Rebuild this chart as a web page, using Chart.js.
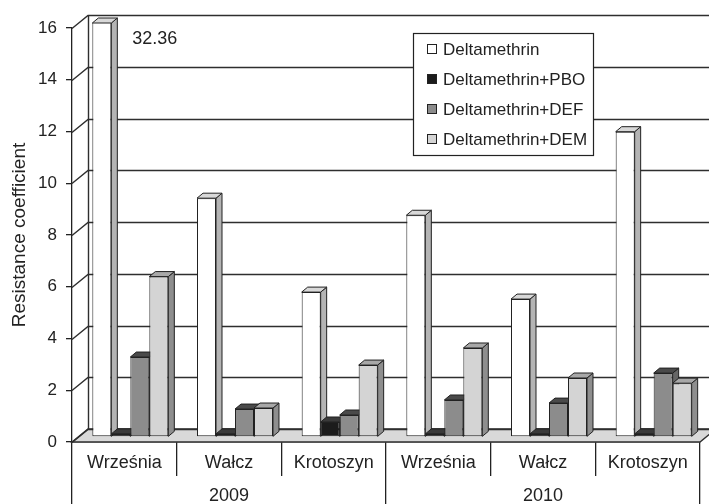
<!DOCTYPE html>
<html>
<head>
<meta charset="utf-8">
<script src="https://cdn.jsdelivr.net/npm/chart.js@4.4.1/dist/chart.umd.min.js"></script>
<style>
  html, body { margin: 0; padding: 0; background: #fff; }
  canvas { display: block; }
</style>
</head>
<body>
<canvas id="myChart" width="709" height="504"></canvas>
<script>
// Sites (two years, three sites each)
const sites = ['Września', 'Wałcz', 'Krotoszyn', 'Września', 'Wałcz', 'Krotoszyn'];
const years = ['2009', '2010'];
const seriesNames = ['Deltamethrin', 'Deltamethrin+PBO', 'Deltamethrin+DEF', 'Deltamethrin+DEM'];

// Resistance coefficients
const deltamethrin = [32.36, 9.23, 5.6, 8.57, 5.33, 11.8];
const withPBO = [0.12, 0.12, 0.58, 0.12, 0.12, 0.12];
const withDEF = [3.09, 1.08, 0.85, 1.43, 1.31, 2.47];
const withDEM = [6.2, 1.12, 2.78, 3.44, 2.28, 2.08];

const yTicks = [0, 2, 4, 6, 8, 10, 12, 14, 16];

// face colours: front, side, top
const fronts = ['#ffffff', '#1c1c1c', '#8c8c8c', '#d4d4d4'];
const sides = ['#b4b4b4', '#111111', '#666666', '#8e8e8e'];
const tops = ['#d8d8d8', '#3a3a3a', '#4a4a4a', '#a8a8a8'];

const FONT = "'Liberation Sans', Arial, sans-serif";
const INK = '#222';
const DX = 16, DY = 13;  // wall depth
const BX = 6, BY = 5;    // bar depth

const depth3d = {
  id: 'depth3d',
  beforeDatasetsDraw(chart) {
    const { ctx, chartArea: a } = chart;
    const y = chart.scales.y;
    ctx.save();
    ctx.strokeStyle = '#2e2e2e';
    ctx.lineWidth = 1.4;
    // floor
    ctx.beginPath();
    ctx.moveTo(a.left, a.bottom);
    ctx.lineTo(a.right, a.bottom);
    ctx.lineTo(a.right + DX, a.bottom - DY);
    ctx.lineTo(a.left + DX, a.bottom - DY);
    ctx.closePath();
    ctx.fillStyle = '#d9d9d9';
    ctx.fill();
    ctx.stroke();
    // side wall + back wall grid
    yTicks.forEach(v => {
      const py = Math.round(y.getPixelForValue(v)) + 0.5;
      ctx.beginPath();
      ctx.moveTo(a.left, py);
      ctx.lineTo(a.left + DX, py - DY);
      ctx.lineTo(chart.width, py - DY);
      ctx.stroke();
    });
    ctx.beginPath();
    ctx.moveTo(a.left + DX + 0.5, a.top - DY);
    ctx.lineTo(a.left + DX + 0.5, a.bottom - DY);
    ctx.stroke();
    ctx.restore();
  },
  // the library draws datasets last-to-first; paint them left-to-right below instead
  beforeDatasetDraw() {
    return false;
  },
  afterDatasetsDraw(chart) {
    const { ctx, chartArea: a } = chart;
    ctx.save();
    ctx.translate(BX, -BY);  // bars sit a little behind the front plane
    chart.data.datasets.forEach((ds, i) => {
      chart.getDatasetMeta(i).data.forEach(el => {
        ctx.save();
        ctx.beginPath();
        ctx.rect(0, a.top, chart.width, chart.height);
        ctx.clip();
        el.draw(ctx, a);
        ctx.restore();
        const l = el.x - el.width / 2, r = el.x + el.width / 2;
        const t = Math.max(el.y, a.top), b = el.base;
        ctx.strokeStyle = INK;
        ctx.lineWidth = 1;
        ctx.beginPath();
        ctx.moveTo(r, t);
        ctx.lineTo(r + BX, t - BY);
        ctx.lineTo(r + BX, b - BY);
        ctx.lineTo(r, b);
        ctx.closePath();
        ctx.fillStyle = sides[i];
        ctx.fill();
        ctx.stroke();
        ctx.beginPath();
        ctx.moveTo(l, t);
        ctx.lineTo(l + BX, t - BY);
        ctx.lineTo(r + BX, t - BY);
        ctx.lineTo(r, t);
        ctx.closePath();
        ctx.fillStyle = tops[i];
        ctx.fill();
        ctx.stroke();
      });
    });
    ctx.restore();
  },
  afterDraw(chart) {
    const { ctx, chartArea: a } = chart;
    const y = chart.scales.y;
    // value of the clipped bar
    const meta = chart.getDatasetMeta(0);
    ctx.save();
    ctx.fillStyle = INK;
    ctx.font = '18px ' + FONT;
    ctx.textBaseline = 'middle';
    meta.data.forEach((el, k) => {
      const v = chart.data.datasets[0].data[k];
      if (v > y.max) ctx.fillText(v.toFixed(2), el.x + el.width / 2 + 27, a.top + 11);
    });
    // legend box
    const x0 = 413, y0 = 33, w = 180, h = 122;
    ctx.fillStyle = '#fff';
    ctx.fillRect(x0, y0, w, h);
    ctx.strokeStyle = INK;
    ctx.lineWidth = 1.2;
    ctx.strokeRect(x0 + 0.5, y0 + 0.5, w, h);
    ctx.font = '17px ' + FONT;
    chart.data.datasets.forEach((ds, k) => {
      const cy = y0 + 16 + k * 30;
      ctx.fillStyle = ds.backgroundColor;
      ctx.fillRect(x0 + 14.5, cy - 4.5, 9, 9);
      ctx.lineWidth = 1;
      ctx.strokeRect(x0 + 14.5, cy - 4.5, 9, 9);
      ctx.fillStyle = INK;
      ctx.fillText(ds.label, x0 + 30, cy + 1);
    });
    ctx.restore();
  }
};

const seriesData = [deltamethrin, withPBO, withDEF, withDEM];

new Chart(document.getElementById('myChart'), {
  type: 'bar',
  data: {
    labels: sites,
    datasets: seriesNames.map((name, i) => ({
      label: name,
      data: seriesData[i],
      backgroundColor: fronts[i],
      borderColor: INK,
      borderWidth: 1,
      borderSkipped: false,
      categoryPercentage: 0.726,
      barPercentage: 1.0
    }))
  },
  options: {
    responsive: false,
    animation: false,
    events: [],
    layout: { padding: { top: 28, right: 9, left: 0, bottom: 0 } },
    plugins: { legend: { display: false }, tooltip: { enabled: false } },
    scales: {
      y: {
        min: 0,
        max: 16,
        afterFit(scale) { scale.width = 72; },
        afterBuildTicks(scale) { scale.ticks = yTicks.map(v => ({ value: v })); },
        ticks: { color: INK, font: { family: FONT, size: 17 }, padding: 9 },
        grid: { drawOnChartArea: false, tickLength: 6, color: INK, lineWidth: 1.3 },
        border: { display: true, color: INK, width: 1.3 },
        title: {
          display: true,
          text: 'Resistance coefficient',
          color: INK,
          font: { family: FONT, size: 19 },
          padding: { top: 8, bottom: 0 }
        }
      },
      x: {
        afterFit(scale) { scale.height = 34; },
        offset: true,
        ticks: { color: INK, font: { family: FONT, size: 18 }, padding: -24, maxRotation: 0 },
        grid: { offset: true, drawOnChartArea: false, tickLength: 34, color: INK, lineWidth: 1.3 },
        border: { display: true, color: INK, width: 1.3 }
      },
      x2: {
        type: 'category',
        labels: years,
        position: 'bottom',
        offset: true,
        afterFit(scale) { scale.height = 28; },
        ticks: { color: INK, font: { family: FONT, size: 18 }, padding: -19, maxRotation: 0 },
        grid: { offset: true, drawOnChartArea: false, tickLength: 28, color: INK, lineWidth: 1.3 },
        border: { display: false }
      }
    }
  },
  plugins: [depth3d]
});
</script>
</body>
</html>
